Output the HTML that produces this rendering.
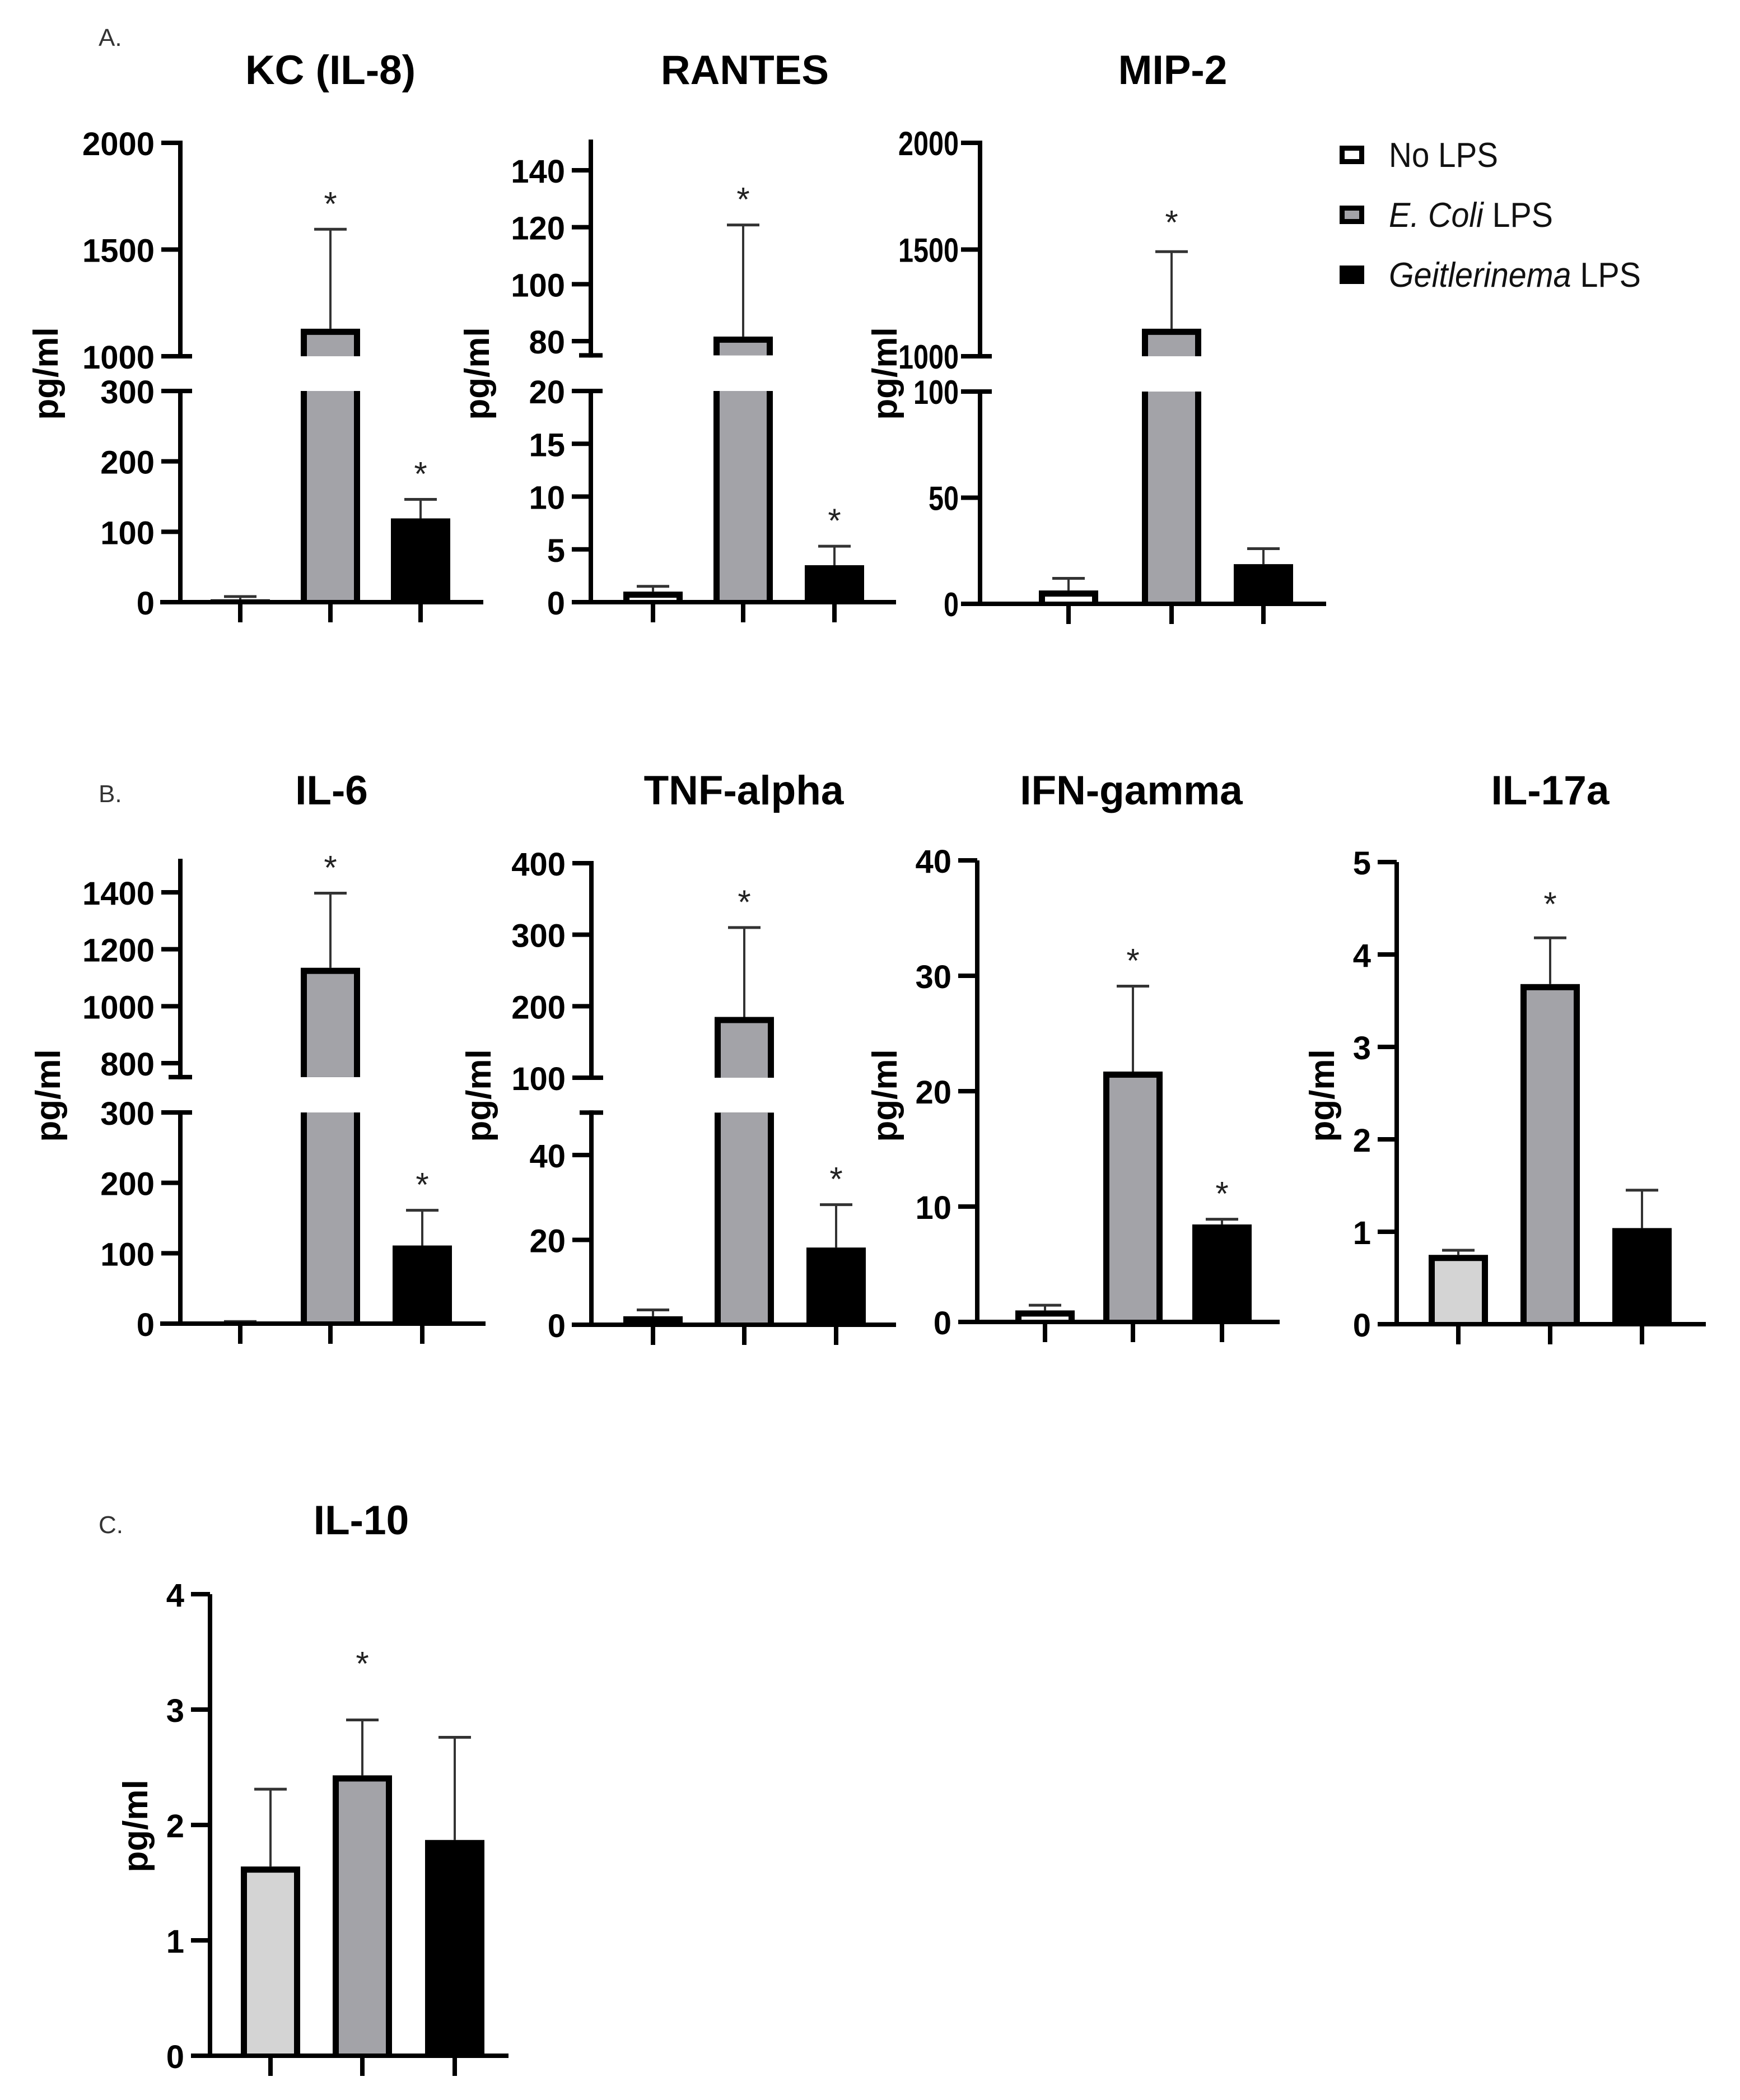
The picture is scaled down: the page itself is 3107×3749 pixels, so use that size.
<!DOCTYPE html>
<html><head><meta charset="utf-8">
<style>
html,body{margin:0;padding:0;background:#fff;}
svg{display:block;font-family:"Liberation Sans",Arial,sans-serif;}
</style></head>
<body>
<svg id="fig" xmlns="http://www.w3.org/2000/svg" width="3107" height="3749" viewBox="0 0 3107 3749">
<rect width="3107" height="3749" fill="#fff"/>
<text x="176" y="82" font-size="44" fill="#333">A.</text>
<text x="176" y="1432" font-size="44" fill="#333">B.</text>
<text x="176" y="2737" font-size="44" fill="#333">C.</text>
<g>
  <g>
    <rect x="2392" y="260" width="44" height="33" fill="#000"/><rect x="2401" y="269" width="26" height="15" fill="#fff"/>
    <text x="2480" y="298" font-size="62" textLength="195" lengthAdjust="spacingAndGlyphs" fill="#111">No LPS</text>
  </g>
  <g>
    <rect x="2392" y="367" width="44" height="33" fill="#000"/><rect x="2401" y="376" width="26" height="15" fill="#a3a3a8"/>
    <text x="2480" y="405" font-size="62" textLength="293" lengthAdjust="spacingAndGlyphs" fill="#111"><tspan font-style="italic">E. Coli</tspan> LPS</text>
  </g>
  <g>
    <rect x="2392" y="474" width="44" height="33" fill="#000"/>
    <text x="2480" y="512" font-size="62" textLength="450" lengthAdjust="spacingAndGlyphs" fill="#111"><tspan font-style="italic">Geitlerinema</tspan> LPS</text>
  </g>
</g>
</svg>
<script>
// ---- data ----
const groups = ["No LPS", "E. Coli LPS", "Geitlerinema LPS"];
const kcValues = [4, 1129, 119];
const kcErrors = [8, 1595, 146];
const kcStars = [false, true, true];
const kcTicksLower = [0, 100, 200, 300];
const kcTicksUpper = [1000, 1500, 2000];
const rantesValues = [1.0, 81.6, 3.5];
const rantesErrors = [1.5, 120.8, 5.3];
const rantesStars = [false, true, true];
const rantesTicksLower = [0, 5, 10, 15, 20];
const rantesTicksUpper = [80, 100, 120, 140];
const mip2Values = [6.3, 1129, 18.7];
const mip2Errors = [12, 1490, 26];
const mip2Stars = [false, true, false];
const mip2TicksLower = [0, 50, 100];
const mip2TicksUpper = [1000, 1500, 2000];
const il6Values = [2, 1135, 111];
const il6Errors = [3, 1397, 161];
const il6Stars = [false, true, true];
const il6TicksLower = [0, 100, 200, 300];
const il6TicksUpper = [800, 1000, 1200, 1400];
const tnfValues = [2, 185, 18.2];
const tnfErrors = [3.5, 310, 28.3];
const tnfStars = [false, true, true];
const tnfTicksLower = [0, 20, 40];
const tnfTicksUpper = [100, 200, 300, 400];
const ifnValues = [1.0, 21.7, 8.45];
const ifnErrors = [1.45, 29.1, 8.9];
const ifnStars = [false, true, true];
const ifnTicks = [0, 10, 20, 30, 40];
const il17Values = [0.75, 3.68, 1.04];
const il17Errors = [0.8, 4.18, 1.45];
const il17Stars = [false, true, false];
const il17Ticks = [0, 1, 2, 3, 4, 5];
const il10Values = [1.64, 2.43, 1.87];
const il10Errors = [2.31, 2.91, 2.76];
const il10Stars = [false, true, false];
const il10Ticks = [0, 1, 2, 3, 4];

// ---- layout ----
const NS = "http://www.w3.org/2000/svg";
const svg = document.getElementById("fig");
function mk(tag, attrs, parent) {
  const e = document.createElementNS(NS, tag);
  for (const k in attrs) e.setAttribute(k, attrs[k]);
  (parent || svg).appendChild(e);
  return e;
}
function segScale(s) { return v => s.y0 + (v - s.v0) * (s.y1 - s.y0) / (s.v1 - s.v0); }

function drawChart(name, L, values, errors, stars, ticksLower, ticksUpper) {
  const g = mk("g", {});
  
  
  const lo = segScale(L.lower);
  const up = L.upper ? segScale(L.upper) : null;
  const yOf = v => (up && v > L.lower.topV) ? up(v) : lo(v);
  const BW = 106, bw = 11;
  const fills = [L.noFill || "#fff", "#a3a3a8", "#000"];
  values.forEach((v, i) => {
    const cx = L.bars[i];
    const yt = yOf(v), ye = yOf(errors[i]);
    const ln = mk("line", {x1: cx, x2: cx, y1: yt, y2: ye, stroke: "#333", "stroke-width": 4}, g);
    
    
    const cp = mk("line", {x1: cx - 29, x2: cx + 29, y1: ye, y2: ye, stroke: "#333", "stroke-width": 5}, g);
    
    
    if (stars[i]) {
      const st = mk("text", {x: cx, y: ye - (L.starOff || 55) + 30, "font-size": 60, "text-anchor": "middle", fill: "#222"}, g);
      st.textContent = "*";
      
      
    }
  });
  values.forEach((v, i) => {
    const cx = L.bars[i], x = cx - BW / 2;
    const bg = mk("g", {}, g);
    
    
    const y0 = lo(0);
    if (up && v > L.lower.topV) {
      const yl = lo(L.lower.topV);
      mk("rect", {x: x, y: yl, width: BW, height: y0 - yl, fill: "#000"}, bg);
      mk("rect", {x: x + bw, y: yl, width: BW - 2 * bw, height: y0 - yl, fill: fills[i]}, bg);
      const yv = up(v), yc = up(L.upper.capV);
      mk("rect", {x: x, y: yv, width: BW, height: yc - yv, fill: "#000"}, bg);
      mk("rect", {x: x + bw, y: yv + bw, width: BW - 2 * bw, height: Math.max(0, yc - yv - bw), fill: fills[i]}, bg);
    } else {
      const yv = lo(v);
      const h = y0 - yv;
      mk("rect", {x: x, y: yv, width: BW, height: Math.max(h, 3), fill: "#000"}, bg);
      if (h > bw * 1.5) mk("rect", {x: x + bw, y: yv + bw, width: BW - 2 * bw, height: h - bw, fill: fills[i]}, bg);
    }
  });
  const ax = L.axisX, y0 = lo(0);
  const xa = mk("line", {x1: L.xAxis[0], x2: L.xAxis[1], y1: y0, y2: y0, stroke: "#000", "stroke-width": 8}, g);
  
  
  L.bars.forEach((cx, i) => {
    const t = mk("line", {x1: cx, x2: cx, y1: y0, y2: y0 + 36, stroke: "#000", "stroke-width": 8}, g);
    
    
  });
  const yLow = lo(L.lower.topV);
  const ya = mk("line", {x1: ax, x2: ax, y1: yLow - (up ? 4 : 0), y2: y0 + 4, stroke: "#000", "stroke-width": 8}, g);
  
  
  if (up) {
    const cL = mk("line", {x1: ax - 21, x2: ax + 21, y1: yLow, y2: yLow, stroke: "#000", "stroke-width": 8}, g);
    
    
    const yc = up(L.upper.capV), yt = up(L.upper.topV);
    const ya2 = mk("line", {x1: ax, x2: ax, y1: yt - 4, y2: yc + 4, stroke: "#000", "stroke-width": 8}, g);
    
    
    const cU = mk("line", {x1: ax - 21, x2: ax + 21, y1: yc, y2: yc, stroke: "#000", "stroke-width": 8}, g);
    
    
  }
  const drawTicks = (ticks, sc) => ticks.forEach(tv => {
    const y = sc(tv);
    const tl = mk("line", {x1: ax - 34, x2: ax, y1: y, y2: y, stroke: "#000", "stroke-width": 8}, g);
    
    
    const attrs = {x: ax - (L.narrow ? 38 : 46), y: y + 22, "font-size": L.narrow ? 60 : 58, "font-weight": "bold", "text-anchor": "end", fill: "#000"};
    const s = String(tv);
    if (L.narrow) { attrs.textLength = s.length * 27; attrs.lengthAdjust = "spacingAndGlyphs"; }
    const tx = mk("text", attrs, g);
    tx.textContent = s;
    
    
  });
  drawTicks(ticksLower, lo);
  if (up) drawTicks(ticksUpper, up);
  const ti = mk("text", {x: L.titleX, y: L.titleY, "font-size": 73, "font-weight": "bold", "text-anchor": "middle", fill: "#000"}, g);
  ti.textContent = L.title;
  
  
  const yl = mk("text", {x: 0, y: 0, "font-size": 62, "font-weight": "bold", "text-anchor": "middle", transform: "translate(" + (L.ylab[0] + 22) + "," + L.ylab[1] + ") rotate(-90)", fill: "#000"}, g);
  yl.textContent = "pg/ml";
  
  
}

drawChart("kc", {title: "KC (IL-8)", titleX: 590, titleY: 150, ylab: [81, 667], axisX: 322, xAxis: [286, 863], bars: [429, 590, 751],
  lower: {v0: 0, y0: 1075, v1: 300, y1: 698, topV: 300}, upper: {v0: 1000, y0: 636, v1: 2000, y1: 255, capV: 1000, topV: 2000}},
  kcValues, kcErrors, kcStars, kcTicksLower, kcTicksUpper);
drawChart("rantes", {title: "RANTES", titleX: 1330, titleY: 150, ylab: [851, 667], axisX: 1055, xAxis: [1021, 1600], bars: [1166, 1327, 1490],
  lower: {v0: 0, y0: 1075, v1: 20, y1: 698, topV: 20}, upper: {v0: 80, y0: 609, v1: 140, y1: 304, capV: 75, topV: 150}},
  rantesValues, rantesErrors, rantesStars, rantesTicksLower, rantesTicksUpper);
drawChart("mip2", {title: "MIP-2", titleX: 2094, titleY: 150, ylab: [1579, 667], axisX: 1750, xAxis: [1717, 2368], bars: [1908, 2092, 2256], starOff: 62, narrow: true,
  lower: {v0: 0, y0: 1078, v1: 100, y1: 699, topV: 100}, upper: {v0: 1000, y0: 636, v1: 2000, y1: 255, capV: 1000, topV: 2000}},
  mip2Values, mip2Errors, mip2Stars, mip2TicksLower, mip2TicksUpper);
drawChart("il6", {title: "IL-6", titleX: 592, titleY: 1436, ylab: [85, 1956], axisX: 322, xAxis: [286, 867], bars: [429, 590, 754],
  lower: {v0: 0, y0: 2363, v1: 300, y1: 1986, topV: 300}, upper: {v0: 800, y0: 1898, v1: 1400, y1: 1593, capV: 751, topV: 1510}},
  il6Values, il6Errors, il6Stars, il6TicksLower, il6TicksUpper);
drawChart("tnf", {title: "TNF-alpha", titleX: 1328, titleY: 1436, ylab: [854, 1956], axisX: 1056, xAxis: [1021, 1600], bars: [1166, 1329, 1493],
  lower: {v0: 0, y0: 2365, v1: 40, y1: 2062, topV: 50}, upper: {v0: 100, y0: 1924, v1: 400, y1: 1541, capV: 100, topV: 400}},
  tnfValues, tnfErrors, tnfStars, tnfTicksLower, tnfTicksUpper);
drawChart("ifn", {title: "IFN-gamma", titleX: 2020, titleY: 1436, ylab: [1579, 1956], axisX: 1745, xAxis: [1714, 2285], bars: [1866, 2023, 2182],
  lower: {v0: 0, y0: 2360, v1: 40, y1: 1536, topV: 40}}, ifnValues, ifnErrors, ifnStars, ifnTicks, null);
drawChart("il17a", {title: "IL-17a", titleX: 2768, titleY: 1436, ylab: [2360, 1956], axisX: 2494, xAxis: [2460, 3046], bars: [2604, 2768, 2932], starOff: 70, noFill: "#d4d4d4",
  lower: {v0: 0, y0: 2364, v1: 5, y1: 1539, topV: 5}}, il17Values, il17Errors, il17Stars, il17Ticks, null);
drawChart("il10", {title: "IL-10", titleX: 645, titleY: 2739, ylab: [241, 3260], axisX: 375, xAxis: [342, 908], bars: [483, 647, 812], starOff: 110, noFill: "#d4d4d4",
  lower: {v0: 0, y0: 3670, v1: 4, y1: 2846, topV: 4}}, il10Values, il10Errors, il10Stars, il10Ticks, null);
</script>
</body></html>
